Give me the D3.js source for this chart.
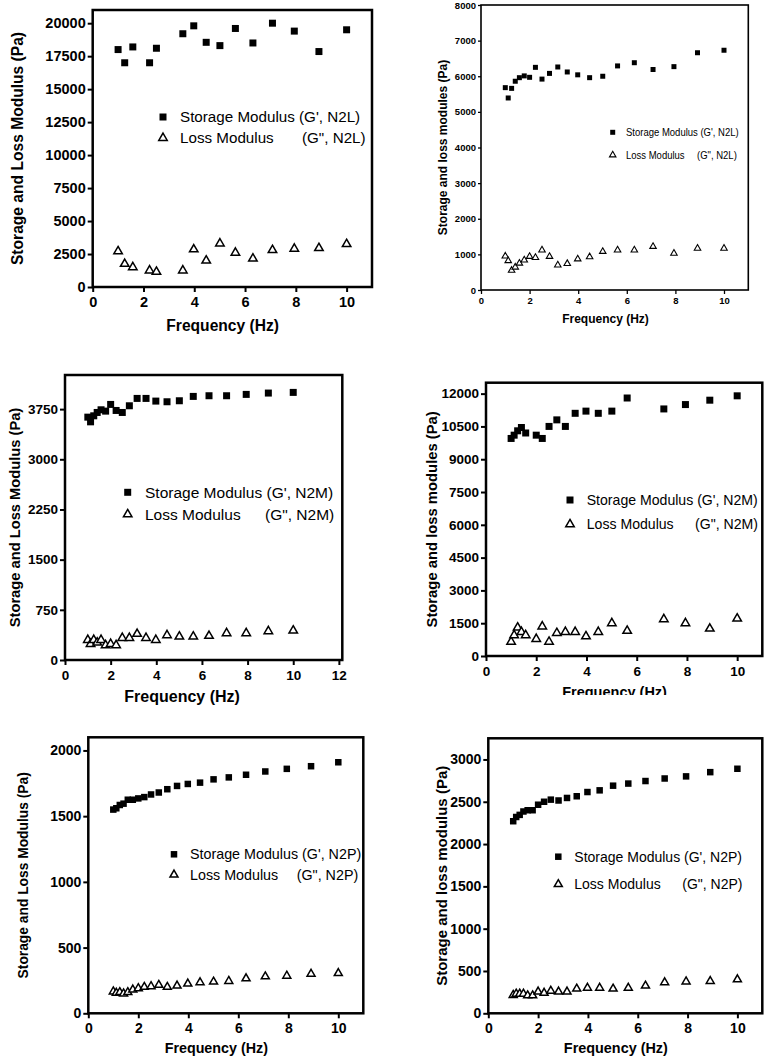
<!DOCTYPE html>
<html>
<meta charset="utf-8">
<style>
  body { margin: 0; background: #fff; }
  svg { display: block; font-family: "Liberation Sans", Arial, sans-serif; }
</style>
<script src="https://cdn.jsdelivr.net/npm/d3@7"></script>
<body>

<script>
// frequency points (Hz)
var freqAll = [1, 1.12, 1.26, 1.41, 1.58, 1.78, 2, 2.24, 2.51, 2.82, 3.16, 3.55, 3.98, 4.47, 5.01, 5.62, 6.31, 7.08, 7.94, 8.91, 10];
var freqN2L = [1, 1.26, 1.58, 2.24, 2.51, 3.55, 3.98, 4.47, 5.01, 5.62, 6.31, 7.08, 7.94, 8.91, 10];
var freqN2Mb = [1, 1.12, 1.26, 1.41, 1.58, 2, 2.24, 2.51, 2.82, 3.16, 3.55, 3.98, 4.47, 5.01, 5.62, 7.08, 7.94, 8.91, 10];

// G' and G'' (Pa)
var storage1 = [18000, 17000, 18200, 17000, 18100, 19200, 19800, 18550, 18300, 19600, 18500, 20000, 19400, 17850, 19500];
var loss1 = [2700, 1750, 1500, 1250, 1150, 1250, 2850, 2000, 3300, 2600, 2150, 2800, 2900, 2950, 3250];

var storage2 = [5680, 5390, 5660, 5860, 5960, 6010, 5970, 6250, 5920, 6080, 6260, 6120, 6040, 5960, 6000, 6290, 6380, 6190, 6270, 6660, 6730];
var loss2 = [950, 820, 550, 640, 750, 840, 940, 910, 1120, 940, 700, 740, 870, 930, 1080, 1120, 1120, 1220, 1030, 1170, 1170];

var storage3 = [3630, 3560, 3650, 3700, 3740, 3720, 3820, 3730, 3700, 3800, 3910, 3910, 3870, 3860, 3875, 3940, 3950, 3950, 3970, 3990, 4000];
var loss3 = [300, 240, 300, 260, 300, 220, 240, 220, 330, 330, 390, 330, 300, 370, 350, 350, 360, 400, 400, 430, 440];

var storage4 = [9950, 10100, 10300, 10450, 10200, 10100, 9950, 10500, 10800, 10500, 11100, 11200, 11100, 11200, 11800, 11300, 11500, 11700, 11900];
var loss4 = [650, 950, 1300, 1100, 950, 780, 1350, 650, 1050, 1100, 1100, 900, 1100, 1500, 1150, 1680, 1500, 1250, 1710];

var storage5 = [1550, 1560, 1585, 1595, 1625, 1625, 1635, 1645, 1665, 1680, 1705, 1730, 1745, 1755, 1780, 1795, 1815, 1840, 1860, 1880, 1910];
var loss5 = [165, 155, 160, 150, 160, 180, 190, 200, 205, 215, 200, 210, 225, 235, 240, 245, 265, 280, 285, 300, 305];

var storage6 = [2270, 2320, 2345, 2385, 2400, 2400, 2465, 2500, 2525, 2515, 2545, 2565, 2615, 2635, 2690, 2715, 2745, 2775, 2800, 2850, 2890];
var loss6 = [215, 230, 230, 230, 210, 210, 255, 240, 265, 255, 255, 290, 300, 300, 290, 300, 325, 365, 375, 380, 400];

// tick values
var xTicks10 = [0, 2, 4, 6, 8, 10];
var xTicks12 = [0, 2, 4, 6, 8, 10, 12];
var yTicks1 = d3.range(0, 20001, 2500);
var yTicks2 = d3.range(0, 8001, 1000);
var yTicks3 = d3.range(0, 3751, 750);
var yTicks4 = d3.range(0, 12001, 1500);
var yTicks5 = d3.range(0, 2001, 500);
var yTicks6 = d3.range(0, 3001, 500);

var svg = d3.select("body").append("svg")
  .attr("width", 768)
  .attr("height", 1058);

// layout of the six panels
var panels = [
  { freq: freqN2L, storage: storage1, loss: loss1, tag: "N2L", yTitle: "Storage and Loss Modulus (Pa)",
    xTicks: xTicks10, yTicks: yTicks1, xMax: 11, yMax: 21000,
    left: 92.7, top: 10, right: 372, bottom: 287, border: 2.5,
    tickFont: 14.5, titleFont: 15.6, legFont: 15.2, sq: 7, tri: 8.5,
    yTitleX: 17.5, xTitleY: 331, legX: 163, legY: [117, 138], legTextX: 180, sufX: 302 },
  { freq: freqAll, storage: storage2, loss: loss2, tag: "N2L", yTitle: "Storage and loss modules (Pa)",
    xTicks: xTicks10, yTicks: yTicks2, xMax: 11, yMax: 8000,
    left: 481, top: 5, right: 748.3, bottom: 290, border: 1.6, narrow: true,
    tickFont: 9.5, titleFont: 12, legFont: 11.6, sq: 5, tri: 6.5,
    yTitleX: 443, xTitleY: 323, legX: 612.7, legY: [132.3, 155], legTextX: 626, sufX: 697 },
  { freq: freqAll, storage: storage3, loss: loss3, tag: "N2M", yTitle: "Storage and Loss Modulus (Pa)",
    xTicks: xTicks12, yTicks: yTicks3, xMax: 12.15, yMax: 4260,
    left: 65, top: 375, right: 342.3, bottom: 660, border: 2.5,
    tickFont: 13.5, titleFont: 14.7, legFont: 15.5, sq: 7, tri: 8.5,
    yTitleX: 15, xTitleY: 702, xTitleFont: 16, legX: 127.7, legY: [492.3, 514.3], legTextX: 145, sufX: 265 },
  { freq: freqN2Mb, storage: storage4, loss: loss4, tag: "N2M", yTitle: "Storage and loss modules (Pa)",
    xTicks: xTicks10, yTicks: yTicks4, xMax: 11, yMax: 12500,
    left: 486, top: 382.7, right: 762.3, bottom: 656, border: 2.5,
    tickFont: 13.5, titleFont: 14.8, legFont: 14.1, sq: 7, tri: 8.5,
    yTitleX: 431.7, xTitleY: 697, xTitleFont: 14.5, clipY: 695,
    legX: 570, legY: [500, 524.3], legTextX: 586.7, sufX: 695 },
  { freq: freqAll, storage: storage5, loss: loss5, tag: "N2P", yTitle: "Storage and Loss Modulus (Pa)",
    xTicks: xTicks10, yTicks: yTicks5, xMax: 11, yMax: 2100,
    left: 88.3, top: 737.3, right: 363.3, bottom: 1013.3, border: 2.5,
    tickFont: 14, titleFont: 13.8, legFont: 14.3, sq: 6.5, tri: 8,
    yTitleX: 23, xTitleY: 1053, xTitleFont: 14.3, legX: 174, legY: [854.3, 874.7], legTextX: 190, sufX: 296.7 },
  { freq: freqAll, storage: storage6, loss: loss6, tag: "N2P", yTitle: "Storage and loss modulus (Pa)",
    xTicks: xTicks10, yTicks: yTicks6, xMax: 11, yMax: 3250,
    left: 488.3, top: 738.3, right: 762.3, bottom: 1013.3, border: 2.5,
    tickFont: 14, titleFont: 15, legFont: 14, sq: 6.5, tri: 8,
    yTitleX: 441.7, xTitleY: 1053, xTitleFont: 14.4, legX: 558.3, legY: [856.7, 884.3], legTextX: 574.3, sufX: 682.3 }
];

var triArea = function(s) { return s * s * Math.sqrt(3) / 4; };

panels.forEach(function(p, i) {
  var g = svg.append("g");
  if (p.clipY) {
    svg.append("clipPath").attr("id", "clip" + i)
      .append("rect").attr("x", 0).attr("y", 0).attr("width", 768).attr("height", p.clipY);
    g.attr("clip-path", "url(#clip" + i + ")");
  }

  var x = d3.scaleLinear().domain([0, p.xMax]).range([p.left, p.right]);
  var y = d3.scaleLinear().domain([0, p.yMax]).range([p.bottom, p.top]);

  var xAxis = g.append("g")
    .attr("transform", "translate(0," + p.bottom + ")")
    .call(d3.axisBottom(x).tickValues(p.xTicks).tickFormat(d3.format("d")).tickSizeOuter(0)
      .tickSize(p.narrow ? 4 : 5).tickPadding(p.narrow ? 3 : 5));
  var yAxis = g.append("g")
    .attr("transform", "translate(" + p.left + ",0)")
    .call(d3.axisLeft(y).tickValues(p.yTicks).tickFormat(d3.format("d")).tickSizeOuter(0)
      .tickSize(p.narrow ? 3 : 5).tickPadding(2));

  [xAxis, yAxis].forEach(function(a) {
    a.select(".domain").remove();
    a.selectAll(".tick line").attr("stroke", "#000").attr("stroke-width", p.border * 0.8);
    a.selectAll(".tick text")
      .attr("fill", "#000")
      .style("font-family", '"Liberation Sans", Arial, sans-serif')
      .style("font-size", p.tickFont + "px")
      .style("font-weight", "bold");
  });

  g.append("rect")
    .attr("x", p.left).attr("y", p.top)
    .attr("width", p.right - p.left).attr("height", p.bottom - p.top)
    .attr("fill", "none").attr("stroke", "#000").attr("stroke-width", p.border);

  // storage modulus, filled squares
  g.selectAll(".sq")
    .data(d3.zip(p.freq, p.storage))
    .enter().append("path")
    .attr("class", "sq")
    .attr("transform", function(d) { return "translate(" + x(d[0]) + "," + y(d[1]) + ")"; })
    .attr("d", d3.symbol(d3.symbolSquare, p.sq * p.sq))
    .attr("fill", "#000");

  // loss modulus, open triangles
  g.selectAll(".tri")
    .data(d3.zip(p.freq, p.loss))
    .enter().append("path")
    .attr("class", "tri")
    .attr("transform", function(d) { return "translate(" + x(d[0]) + "," + y(d[1]) + ")"; })
    .attr("d", d3.symbol(d3.symbolTriangle, triArea(p.tri)))
    .attr("fill", "#fff").attr("stroke", "#000").attr("stroke-width", p.narrow ? 1.1 : 1.5);

  // legend
  g.append("path")
    .attr("transform", "translate(" + p.legX + "," + p.legY[0] + ")")
    .attr("d", d3.symbol(d3.symbolSquare, p.sq * p.sq)).attr("fill", "#000");
  g.append("path")
    .attr("transform", "translate(" + p.legX + "," + p.legY[1] + ")")
    .attr("d", d3.symbol(d3.symbolTriangle, triArea(p.tri)))
    .attr("fill", "#fff").attr("stroke", "#000").attr("stroke-width", p.narrow ? 1.1 : 1.5);

  var legText = [
    { x: p.legTextX, y: p.legY[0], t: "Storage Modulus (G', " + p.tag + ")" },
    { x: p.legTextX, y: p.legY[1], t: "Loss Modulus" },
    { x: p.sufX, y: p.legY[1], t: "(G\", " + p.tag + ")" }
  ];
  // the small panel uses a condensed face: squeeze it horizontally
  var squeeze = p.narrow ? 0.82 : 1;
  g.selectAll(".leg")
    .data(legText)
    .enter().append("text")
    .attr("class", "leg")
    .attr("transform", function(d) { return "translate(" + d.x + "," + d.y + ") scale(" + squeeze + ",1)"; })
    .attr("dy", "0.36em")
    .style("font-size", p.legFont + "px")
    .text(function(d) { return d.t; });

  // axis titles
  g.append("text")
    .attr("transform", "translate(" + p.yTitleX + "," + ((p.top + p.bottom) / 2) + ") rotate(-90)")
    .attr("text-anchor", "middle")
    .attr("dy", "0.36em")
    .style("font-size", p.titleFont + "px")
    .style("font-weight", "bold")
    .text(p.yTitle);

  g.append("text")
    .attr("x", (p.left + x(10)) / 2 + 3)
    .attr("y", p.xTitleY)
    .attr("text-anchor", "middle")
    .style("font-size", (p.xTitleFont || p.titleFont) + "px")
    .style("font-weight", "bold")
    .text("Frequency (Hz)");
});
</script>
</body>
</html>
